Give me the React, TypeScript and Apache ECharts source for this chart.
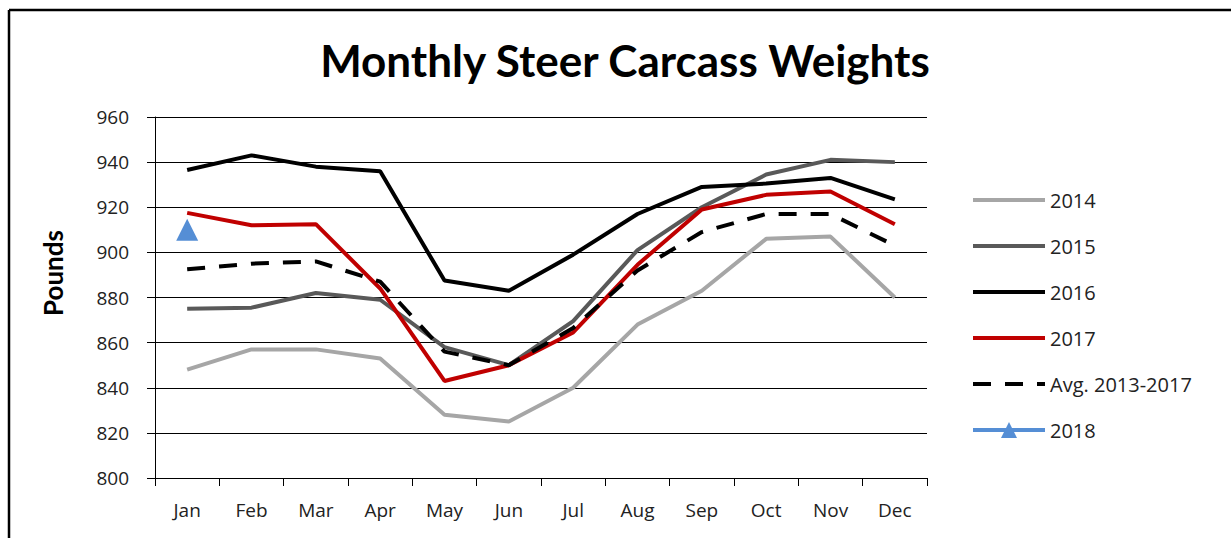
import React, { useEffect, useRef } from "react";
import * as echarts from "echarts";

const months = ["Jan", "Feb", "Mar", "Apr", "May", "Jun", "Jul", "Aug", "Sep", "Oct", "Nov", "Dec"];
const y2014 = [848, 857, 857, 853, 828, 825, 840, 868, 883, 906, 907, 880];
const y2015 = [875, 875.5, 882, 879, 858, 850, 869.5, 901, 920, 934.5, 941, 940];
const y2016 = [936.5, 943, 938, 936, 887.5, 883, 899, 917, 929, 930.5, 933, 923.5];
const y2017 = [917.5, 912, 912.5, 884, 843, 850, 864.5, 894.5, 919, 925.5, 927, 912.5];
const avg = [892.5, 895, 896, 887, 856, 850, 866.5, 892, 909, 917, 917, 903];
const y2018 = [910, null, null, null, null, null, null, null, null, null, null, null];
const legendNames = ["2014", "2015", "2016", "2017", "Avg. 2013-2017", "2018"];

const FONT = "Lato, 'Open Sans', sans-serif";
const LFONT = "'Open Sans', Lato, sans-serif";

export default function App() {
  const ref = useRef<HTMLDivElement>(null);
  useEffect(() => {
    if (!ref.current) return;
    const chart = echarts.init(ref.current, undefined, { renderer: "svg" });
    const lineSeries = (name: string, data: any[], color: string, type: any = "solid") => ({
      name,
      type: "line",
      data,
      symbol: "none",
      lineStyle: { color, width: 4, type },
      itemStyle: { color },
      emphasis: { disabled: true },
    });
    chart.setOption({
      animation: false,
      backgroundColor: "#ffffff",
      textStyle: { fontFamily: FONT },
      grid: { left: 155, right: 304, top: 117, bottom: 60 },
      xAxis: {
        type: "category",
        data: months,
        boundaryGap: true,
        axisLine: { lineStyle: { color: "#000", width: 1 } },
        axisTick: { show: true, length: 8, lineStyle: { color: "#000" } },
        axisLabel: { color: "#222", fontSize: 19, margin: 22, fontFamily: LFONT },
      },
      yAxis: {
        type: "value",
        min: 800,
        max: 960,
        interval: 20,
        axisLine: { show: true, lineStyle: { color: "#000", width: 1 } },
        axisTick: { show: true, length: 8, lineStyle: { color: "#000" } },
        axisLabel: { color: "#222", fontSize: 19, margin: 26, fontFamily: LFONT },
        splitLine: { lineStyle: { color: "#000", width: 1 } },
      },
      legend: {
        orient: "vertical",
        left: 966,
        top: 185,
        itemWidth: 72,
        itemHeight: 20,
        itemGap: 26,
        lineStyle: { width: 4 },
        textStyle: { fontSize: 20, color: "#222", fontFamily: LFONT },
        data: legendNames.map((n) =>
          n === "2018"
            ? { name: n, lineStyle: { width: 4 } }
            : { name: n, itemStyle: { opacity: 0 }, lineStyle: { width: 4 } }
        ),
      },
      graphic: [
        {
          type: "text",
          x: 625,
          y: 60,
          style: {
            text: "Monthly Steer Carcass Weights",
            fontSize: 44,
            fontWeight: "bold",
            fontFamily: FONT,
            fill: "#000",
            textAlign: "center",
            textVerticalAlign: "middle",
          },
        },
        {
          type: "text",
          x: 53,
          y: 273,
          rotation: Math.PI / 2,
          style: {
            text: "Pounds",
            fontSize: 26,
            fontWeight: "bold",
            fontFamily: FONT,
            fill: "#000",
            textAlign: "center",
            textVerticalAlign: "middle",
          },
        },
        { type: "line", shape: { x1: 9, y1: 10, x2: 1231, y2: 10 }, style: { stroke: "#000", lineWidth: 2.5 } },
        { type: "line", shape: { x1: 9, y1: 10, x2: 9, y2: 538 }, style: { stroke: "#000", lineWidth: 2.5 } },
      ],
      series: [
        lineSeries("2014", y2014, "#a6a6a6"),
        lineSeries("2015", y2015, "#595959"),
        lineSeries("2016", y2016, "#000000"),
        lineSeries("2017", y2017, "#c00000"),
        lineSeries("Avg. 2013-2017", avg, "#000000", [18, 14]),
        {
          name: "2018",
          type: "line",
          data: y2018,
          symbol: "triangle",
          symbolSize: 22,
          lineStyle: { color: "#558ed5", width: 4 },
          itemStyle: { color: "#558ed5" },
          emphasis: { disabled: true },
        },
      ],
    });
    return () => chart.dispose();
  }, []);
  return (
    <div
      ref={ref}
      style={{ position: "absolute", left: 0, top: 0, width: 1231, height: 538 }}
    />
  );
}
